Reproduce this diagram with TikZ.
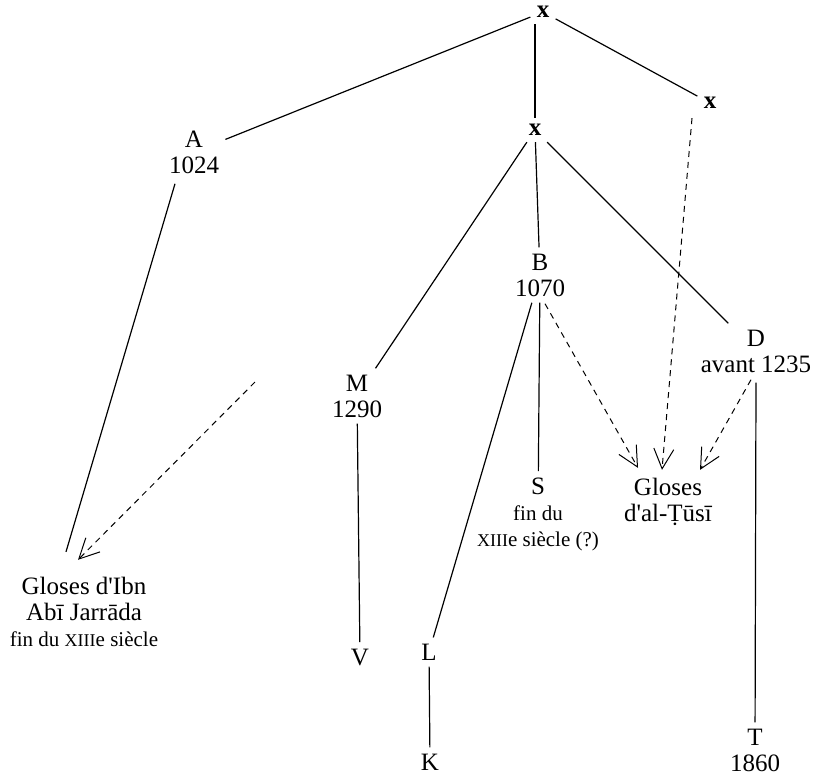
\documentclass[tikz,border=0pt]{standalone}
\usepackage{fontspec}
\setmainfont{Liberation Serif}
\usetikzlibrary{arrows.meta}

\newcommand{\smallsz}{\fontsize{10.5}{13}\selectfont}
\newcommand{\xiii}{{\fontsize{9}{13}\selectfont XIII}e}

\begin{document}
\begin{tikzpicture}[
    x=0.5pt, y=-0.5pt,
    >={Straight Barb[length=10pt, width=10pt]},
    witness/.style={align=center, inner sep=3pt, font=\fontsize{12.5}{13}\selectfont},
    hyp/.style={inner sep=3pt, font=\fontsize{12.5}{13}\selectfont\bfseries},
    filiation/.style={line width=0.6pt},
    gloss/.style={->, line width=0.5pt, dash pattern=on 3pt off 2.5pt},
]
    \useasboundingbox (0,0) rectangle (814,776);

    % ── Hyparchetypes ─────────────────────────────
    \node[hyp] (x0) at (543,12)  {x};
    \node[hyp] (x1) at (535,130) {x};
    \node[hyp] (x2) at (710,103) {x};

    % ── Manuscripts ───────────────────────────────
    \node[witness] (A) at (194,152) {A\\1024};
    \node[witness] (B) at (540,275) {B\\1070};
    \node[witness] (M) at (357,396) {M\\1290};
    \node[witness] (D) at (756,351) {D\\avant 1235};
    \node[witness] (S) at (538,514) {S\\{\smallsz fin du}\\{\smallsz \xiii{} siècle (?)}};
    \node[witness] (V) at (360,657) {V};
    \node[witness] (L) at (429,652) {L};
    \node[witness] (K) at (430,762) {K};
    \node[witness] (T) at (755,750) {T\\1860};

    % ── Glosses ───────────────────────────────────
    \node[witness] (ibn) at (84,612)
         {Gloses d\textquotesingle Ibn\\Abī Jarrāda\\{\smallsz fin du \xiii{} siècle}};
    \node[witness] (tusi) at (668,502) {Gloses\\d\textquotesingle al-Ṭūsī};
    \coordinate (ibnfrom) at (255,382);

    % ── Filiation ─────────────────────────────────
    \draw[filiation] (x0) -- (A);
    \draw[filiation] (x0.south -| x1) -- (x1);
    \draw[filiation] (x0) -- (x2);
    \draw[filiation] ([shift={(-19,4)}]A.south) -- ([shift={(-18,-19)}]ibn.north);
    \draw[filiation] (x1) -- (M);
    \draw[filiation] (x1) -- (B);
    \draw[filiation] (x1) -- (D);
    \draw[filiation] (B) -- (L);
    \draw[filiation] (B) -- (S);
    \draw[filiation] (M) -- (V);
    \draw[filiation] (L) -- (K);
    \draw[filiation] ([shift={(0,4)}]D.south) -- (T);

    % ── Use by the glossators ─────────────────────
    \draw[gloss] (ibnfrom) -- ([shift={(-6,-11)}]ibn.north);
    \draw[gloss] ([shift={(5,1)}]B.south) -- ([shift={(-30,-4)}]tusi.north);
    \draw[gloss] ([shift={(-18,3)}]x2.south) -- ([shift={(-6,-2)}]tusi.north);
    \draw[gloss] ([shift={(-5,1)}]D.south) -- ([shift={(32,-2)}]tusi.north);
\end{tikzpicture}
\end{document}
